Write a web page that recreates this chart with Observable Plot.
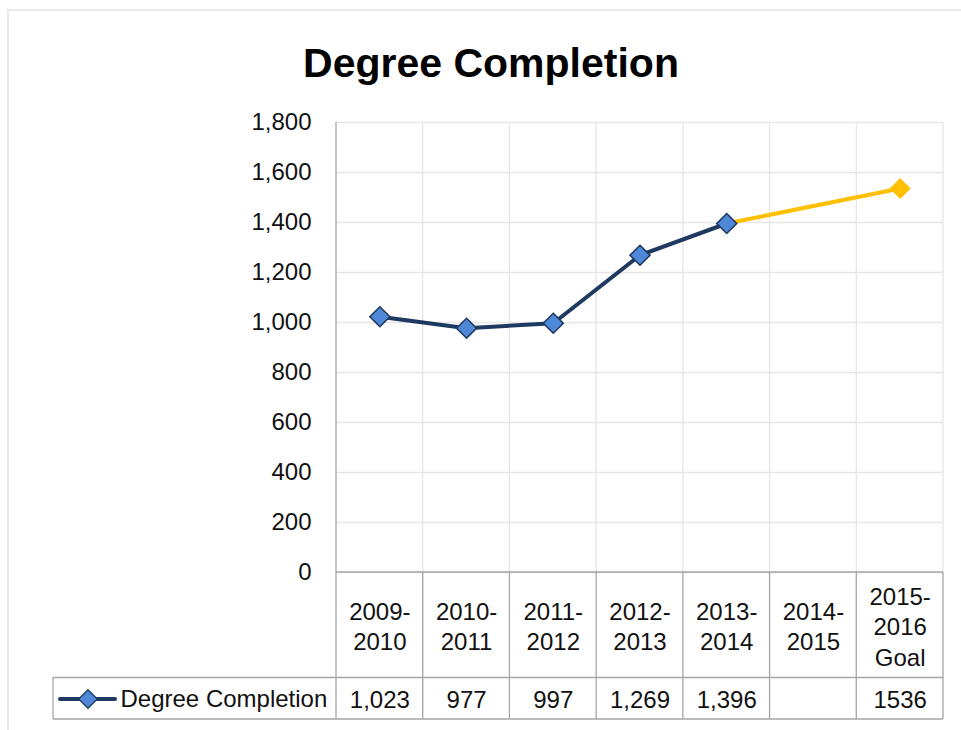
<!DOCTYPE html>
<html>
<head>
<meta charset="utf-8">
<script src="https://cdn.jsdelivr.net/npm/d3@7"></script>
<script src="https://cdn.jsdelivr.net/npm/@observablehq/plot@0.6"></script>
<style>
  html, body { margin: 0; padding: 0; background: #fff; }
  #chart { width: 961px; height: 730px; }
</style>
</head>
<body>
<div id="chart"></div>
<script>
// ---- Data ----
const chartTitle = "Degree Completion";
const seriesName = "Degree Completion";
const categories = ["2009-2010", "2010-2011", "2011-2012", "2012-2013", "2013-2014", "2014-2015", "2015-2016 Goal"];
const headerLabels = ["2009-\n2010", "2010-\n2011", "2011-\n2012", "2012-\n2013", "2013-\n2014", "2014-\n2015", "2015-\n2016\nGoal"];
const values = [1023, 977, 997, 1269, 1396, null, 1536];
const valueLabels = ["1,023", "977", "997", "1,269", "1,396", "", "1536"];
const isGoal = [false, false, false, false, false, false, true];
const yTicks = [0, 200, 400, 600, 800, 1000, 1200, 1400, 1600, 1800];

// ---- Derived tables ----
const rows = categories.map((c, i) => ({cat: c, header: headerLabels[i], value: values[i], label: valueLabels[i], goal: isGoal[i]}));
const actual = rows.filter(d => !d.goal && d.value != null);
const goalRows = rows.filter(d => d.goal && d.value != null);
const goalSegment = [actual[actual.length - 1], ...goalRows];

const NAVY = "#1f3a60";
const BLUE = "#4f88d6";
const GOLD = "#ffc000";
const GRID = "#e6e6e6";
const TABLE = "#a6a6a6";
const FONT = "'Liberation Sans', Arial, sans-serif";

// Custom mark: frame border, vertical gridlines, data table lines, legend swatch
function tableMark(index, scales, values, dim) {
  const x = scales.x, y = scales.y;
  const n = categories.length;
  const left = dim.marginLeft, right = dim.width - dim.marginRight;
  const c0 = x(categories[0]), c1 = x(categories[1]);
  const step = c1 - c0;
  const startOff = Math.abs(c0 - left) < 1 ? 0 : -step / 2;
  const bandStart = c => x(c) + startOff;
  const top = y(0), plotTop = y(yTicks[yTicks.length - 1]);
  const mid = top + 105.5, bot = top + 147;
  const legendLeft = 53;
  const g = d3.create("svg:g");
  // outer chart border (light)
  g.append("path").attr("d", `M8,${dim.height + 10}V10H${dim.width + 10}`)
    .attr("fill", "none").attr("stroke", "#e9e9e9").attr("stroke-width", 2);
  // band boundaries
  const bounds = categories.slice(1).map(bandStart).concat([bandStart(categories[n - 1]) + step]);
  for (const bx of bounds) {
    g.append("line").attr("x1", bx).attr("x2", bx).attr("y1", plotTop).attr("y2", top)
      .attr("stroke", GRID).attr("stroke-width", 1.3);
  }
  for (const bx of bounds) {
    g.append("line").attr("x1", bx).attr("x2", bx).attr("y1", top).attr("y2", bot)
      .attr("stroke", TABLE).attr("stroke-width", 1.3);
  }
  // y axis line running down into table
  g.append("line").attr("x1", left).attr("x2", left).attr("y1", plotTop).attr("y2", bot)
    .attr("stroke", TABLE).attr("stroke-width", 1.3);
  // header top line
  g.append("line").attr("x1", left).attr("x2", right).attr("y1", top).attr("y2", top)
    .attr("stroke", TABLE).attr("stroke-width", 1.3);
  // value row lines
  for (const yy of [mid, bot]) {
    g.append("line").attr("x1", legendLeft).attr("x2", right).attr("y1", yy).attr("y2", yy)
      .attr("stroke", TABLE).attr("stroke-width", 1.3);
  }
  g.append("line").attr("x1", legendLeft).attr("x2", legendLeft).attr("y1", mid).attr("y2", bot)
    .attr("stroke", TABLE).attr("stroke-width", 1.3);
  // legend swatch
  const ly = top + 127;
  g.append("line").attr("x1", 60).attr("x2", 115).attr("y1", ly).attr("y2", ly)
    .attr("stroke", NAVY).attr("stroke-width", 4).attr("stroke-linecap", "round");
  g.append("path").attr("d", d3.symbol(d3.symbolDiamond2, 220)())
    .attr("transform", `translate(88,${ly})`)
    .attr("fill", BLUE).attr("stroke", NAVY).attr("stroke-width", 1.3);
  return g.node();
}

const plot = Plot.plot({
  width: 961,
  height: 730,
  marginLeft: 336,
  marginRight: 18,
  marginTop: 122,
  marginBottom: 158,
  style: {fontFamily: FONT, background: "#fff", color: "#000"},
  x: {type: "band", domain: categories, padding: 0, round: false, axis: null},
  y: {domain: [0, 1800], axis: null},
  marks: [
    Plot.gridY(yTicks, {stroke: GRID, strokeOpacity: 1, strokeWidth: 1.3}),
    tableMark,
    Plot.axisY(yTicks, {tickSize: 0, tickPadding: 25, tickFormat: d3.format(","), fontSize: 24, fill: "#111", label: null}),
    Plot.line(goalSegment, {x: "cat", y: "value", stroke: GOLD, strokeWidth: 4}),
    Plot.line(actual, {x: "cat", y: "value", stroke: NAVY, strokeWidth: 4}),
    Plot.dot(goalRows, {x: "cat", y: "value", symbol: "diamond2", r: 9, fill: GOLD, stroke: GOLD, strokeWidth: 1}),
    Plot.dot(actual, {x: "cat", y: "value", symbol: "diamond2", r: 9, fill: BLUE, stroke: NAVY, strokeWidth: 1.6}),
    // table header
    Plot.text(rows, {x: "cat", text: "header", frameAnchor: "bottom", dy: 53, lineAnchor: "middle", lineHeight: 1.27, fontSize: 24, fill: "#111"}),
    // table values
    Plot.text(rows, {x: "cat", text: "label", frameAnchor: "bottom", dy: 128, lineAnchor: "middle", fontSize: 24, fill: "#111"}),
    // legend label
    Plot.text([seriesName], {text: d => d, frameAnchor: "bottom-left", dx: -216, dy: 127, textAnchor: "start", lineAnchor: "middle", fontSize: 24, fill: "#111"}),
    // title
    Plot.text([chartTitle], {text: d => d, frameAnchor: "top", dx: -149, dy: -59, lineAnchor: "middle", fontSize: 41, fontWeight: "bold", fill: "#000"})
  ]
});
document.getElementById("chart").appendChild(plot);
</script>
</body>
</html>
